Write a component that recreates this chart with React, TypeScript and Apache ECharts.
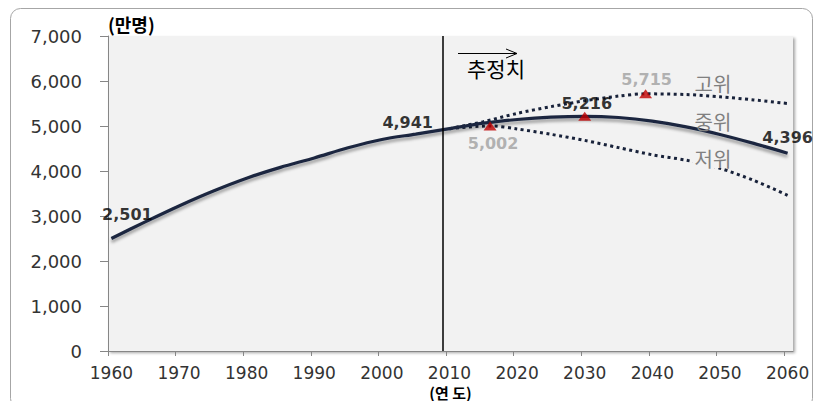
import { useEffect, useRef } from "react";
import * as echarts from "echarts";

// Year labels along the bottom axis (one every decade)
const decadeYears = [1960, 1970, 1980, 1990, 2000, 2010, 2020, 2030, 2040, 2050, 2060];

// Medium scenario (중위), 만명
const midYears = [1960, 1965, 1970, 1975, 1980, 1985, 1990, 1995, 2000, 2005, 2010, 2015, 2020, 2025, 2030, 2035, 2040, 2045, 2050, 2055, 2060];
const midValues = [2501, 2870, 3224, 3550, 3840, 4081, 4290, 4515, 4701, 4820, 4941, 5062, 5144, 5197, 5216, 5189, 5109, 4981, 4812, 4613, 4396];

// High scenario (고위)
const highYears = [2010, 2015, 2020, 2025, 2030, 2035, 2039, 2045, 2050, 2055, 2060];
const highValues = [4941, 5096, 5280, 5430, 5560, 5665, 5715, 5700, 5650, 5580, 5500];

// Low scenario (저위)
const lowYears = [2010, 2016, 2020, 2025, 2030, 2035, 2040, 2045, 2050, 2055, 2060];
const lowValues = [4941, 5002, 4935, 4815, 4680, 4520, 4360, 4240, 4060, 3790, 3460];

// Peak of each scenario (low, medium, high)
const peakYears = [2016, 2030, 2039];
const peakValues = [5002, 5216, 5715];

// Medium-scenario years whose values are written on the chart
const labeledMidYears = [1960, 2010, 2060];

// Start of the projected period
const projectionStart = 2009;

const fmt = (v: number) => v.toLocaleString("en-US");

const NUM_FONT = "'DejaVu Sans', Verdana, sans-serif";
const KR_FONT = "'Noto Sans CJK KR', 'Noto Sans', sans-serif";

const midLabelPlacement: Record<number, any> = {
  1960: { position: "top", distance: 5, offset: [16, -10] },
  2010: { position: "left", distance: 16, offset: [0, -6] },
  2060: { position: "top", distance: 5, offset: [0, -2] },
};

const peakLabelPlacement = [
  { position: "bottom", distance: 5, offset: [3, 0], color: "#a0a0a0" },
  { position: "top", distance: 0, offset: [2, 0], color: "#000000" },
  { position: "top", distance: 2, offset: [1, 0], color: "#a0a0a0" },
];

const scenarioText = (text: string, x: number, y: number, boxed = false) => ({
  type: "text",
  x,
  y,
  z: 20,
  style: {
    text,
    fontFamily: KR_FONT,
    fontSize: 20,
    fill: "#808080",
    align: "center",
    verticalAlign: "middle",
    ...(boxed ? { backgroundColor: "#f2f2f2", padding: [0, 2] } : {}),
  },
});

export default function App() {
  const ref = useRef<HTMLDivElement>(null);

  useEffect(() => {
    if (!ref.current) return;
    const chart = echarts.init(ref.current, undefined, { renderer: "svg" });

    const pairs = (xs: number[], ys: number[]) => xs.map((x, i) => [x, ys[i]]);

    const dotted = {
      type: [3, 3.5] as any,
      width: 3,
      color: "#18223a",
      cap: "butt" as const,
    };

    const labelText = {
      fontFamily: NUM_FONT,
      fontWeight: "bold" as const,
      fontSize: 16,
    };

    chart.setOption({
      animation: false,
      backgroundColor: "#ffffff",
      grid: {
        left: 108,
        top: 36,
        width: 685,
        height: 315,
        outerBoundsMode: "none",
        containLabel: false,
        show: true,
        backgroundColor: "#f2f2f2",
        borderWidth: 0,
        shadowColor: "rgba(0,0,0,0.35)",
        shadowBlur: 3,
        shadowOffsetX: 2,
        shadowOffsetY: 2,
      },
      xAxis: {
        type: "value",
        min: 1959.5,
        max: 2060.8,
        name: "(연 도)",
        nameLocation: "middle",
        nameGap: 33,
        nameMoveOverlap: false,
        nameTextStyle: {
          fontFamily: KR_FONT,
          fontWeight: "bold",
          fontSize: 15,
          lineHeight: 16,
          color: "#000",
        },
        axisLine: { show: true, lineStyle: { color: "#868686", width: 1 } },
        axisTick: {
          show: true,
          length: 5,
          lineStyle: { color: "#868686" },
          customValues: decadeYears.map((y) => y - 0.5),
        },
        axisLabel: {
          customValues: decadeYears,
          formatter: (v: number) => String(Math.round(v)),
          margin: 13,
          fontFamily: NUM_FONT,
          fontSize: 17,
          lineHeight: 18,
          color: "#333",
        },
        splitLine: { show: false },
      },
      yAxis: {
        type: "value",
        min: 0,
        max: 7000,
        interval: 1000,
        name: "(만명)",
        nameLocation: "end",
        nameGap: 3,
        nameTextStyle: {
          align: "left",
          verticalAlign: "bottom",
          fontFamily: KR_FONT,
          fontWeight: "bold",
          fontSize: 18,
          color: "#000",
        },
        axisLine: { show: true, lineStyle: { color: "#868686", width: 1 } },
        axisTick: { show: true, length: 8, lineStyle: { color: "#868686" } },
        axisLabel: {
          formatter: (v: number) => fmt(v),
          margin: 26,
          fontFamily: NUM_FONT,
          fontSize: 18,
          color: "#333",
        },
        splitLine: { show: false },
      },
      series: [
        {
          name: "고위",
          type: "line",
          data: pairs(highYears, highValues),
          symbol: "none",
          smooth: 0.3,
          lineStyle: dotted,
          z: 2,
        },
        {
          name: "저위",
          type: "line",
          data: pairs(lowYears, lowValues),
          symbol: "none",
          smooth: 0.3,
          lineStyle: dotted,
          z: 2,
        },
        {
          name: "중위",
          type: "line",
          data: pairs(midYears, midValues),
          symbol: "none",
          smooth: 0.3,
          lineStyle: {
            color: "#1c2841",
            width: 3.2,
            shadowColor: "rgba(0,0,0,0.35)",
            shadowBlur: 3,
            shadowOffsetY: 3,
          },
          z: 3,
          markLine: {
            silent: true,
            symbol: "none",
            label: { show: false },
            lineStyle: { color: "#000", width: 1.5, type: "solid" },
            data: [{ xAxis: projectionStart }],
          },
        },
        {
          name: "중위 값",
          type: "scatter",
          symbolSize: 1,
          itemStyle: { color: "transparent" },
          z: 5,
          data: labeledMidYears.map((y) => ({
            value: [y, midValues[midYears.indexOf(y)]],
            label: {
              show: true,
              formatter: (p: any) => fmt(p.value[1]),
              color: "#000",
              ...labelText,
              ...midLabelPlacement[y],
            },
          })),
        },
        {
          name: "정점",
          type: "scatter",
          symbol: "triangle",
          symbolSize: [13, 9],
          itemStyle: { color: "#c00000" },
          z: 6,
          data: peakYears.map((y, i) => ({
            value: [y, peakValues[i]],
            label: {
              show: true,
              formatter: (p: any) => fmt(p.value[1]),
              ...labelText,
              ...peakLabelPlacement[i],
            },
          })),
        },
      ],
      graphic: [
        {
          type: "rect",
          shape: { x: 10.5, y: 8.5, width: 802, height: 400, r: 10 },
          style: { fill: "none", stroke: "#a6a6a6", lineWidth: 1 },
          silent: true,
          z: -10,
        },
        {
          type: "line",
          shape: { x1: 458, y1: 53.5, x2: 517, y2: 53.5 },
          style: { stroke: "#000", lineWidth: 1 },
          z: 20,
        },
        {
          type: "polyline",
          shape: { points: [[506, 49], [517, 53.5], [506, 58]] },
          style: { stroke: "#000", lineWidth: 1, fill: "none" },
          z: 20,
        },
        {
          type: "text",
          x: 496,
          y: 67.5,
          z: 20,
          style: {
            text: "추정치",
            fontFamily: KR_FONT,
            fontSize: 21,
            fill: "#000",
            align: "center",
            verticalAlign: "middle",
          },
        },
        scenarioText("고위", 713, 83),
        scenarioText("중위", 713, 121),
        scenarioText("저위", 713, 158, true),
      ],
    });

    return () => chart.dispose();
  }, []);

  return (
    <div
      ref={ref}
      style={{
        position: "absolute",
        left: 0,
        top: 0,
        width: 817,
        height: 401,
        background: "#fff",
      }}
    />
  );
}
